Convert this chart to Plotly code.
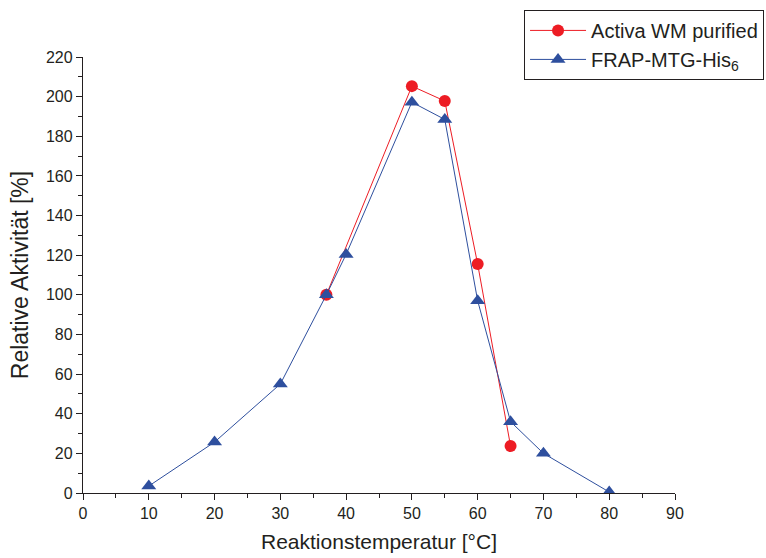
import plotly.graph_objects as go

temp_activa = [37, 50, 55, 60, 65]
act_activa = [100, 205.3, 197.8, 115.5, 23.7]

temp_frap = [10, 20, 30, 37, 40, 50, 55, 60, 65, 70, 80]
act_frap = [3.5, 25.7, 55, 100, 120.4, 197.2, 188.5, 97, 36, 20, 0.5]

x_ticks = list(range(0, 91, 10))
y_ticks = list(range(0, 221, 20))

RED = "#ed1c24"
BLUE = "#2e4f9e"
FONT = "Liberation Sans, Arial, sans-serif"
TXT = "#231f20"

fig = go.Figure()
fig.add_trace(go.Scatter(
    x=temp_activa, y=act_activa, mode="lines+markers", name="Activa WM purified",
    line=dict(color=RED, width=1),
    marker=dict(symbol="circle", size=12, color=RED),
))
fig.add_trace(go.Scatter(
    x=temp_frap, y=act_frap, mode="lines+markers", name="FRAP-MTG-His<sub>6</sub>",
    line=dict(color=BLUE, width=1),
    marker=dict(symbol="triangle-up", size=13, color=BLUE),
))

axis_common = dict(
    showline=True, linecolor=TXT, linewidth=1.3, mirror=False,
    ticks="outside", ticklen=6, tickwidth=1.3, tickcolor=TXT,
    showgrid=False, zeroline=False,
    tickfont=dict(family=FONT, size=16, color=TXT),
)

fig.update_xaxes(
    range=[0, 90], tickvals=x_ticks, ticktext=[str(v) for v in x_ticks],
    minor=dict(ticks="outside", ticklen=4, tickwidth=1.3, tickcolor=TXT, dtick=5, tick0=0),
    title=dict(text="Reaktionstemperatur [°C]", font=dict(family=FONT, size=21, color=TXT), standoff=12),
    automargin=False,
    **axis_common,
)
fig.update_yaxes(
    range=[0, 220], tickvals=y_ticks, ticktext=[str(v) for v in y_ticks],
    minor=dict(ticks="outside", ticklen=4, tickwidth=1.3, tickcolor=TXT, dtick=10, tick0=0),
    title=dict(text="Relative Aktivität [%]", font=dict(family=FONT, size=23, color=TXT), standoff=10),
    automargin=False,
    **axis_common,
)

fig.update_layout(
    width=766, height=558,
    margin=dict(l=83, r=91, t=57, b=65, autoexpand=False),
    paper_bgcolor="white", plot_bgcolor="white",
    showlegend=True,
    legend=dict(
        x=0.745, y=1.108, xanchor="left", yanchor="top",
        bordercolor=TXT, borderwidth=1, bgcolor="white",
        font=dict(family=FONT, size=20, color=TXT),
        tracegroupgap=0, itemwidth=56,
    ),
)

fig.write_html("out.html")
